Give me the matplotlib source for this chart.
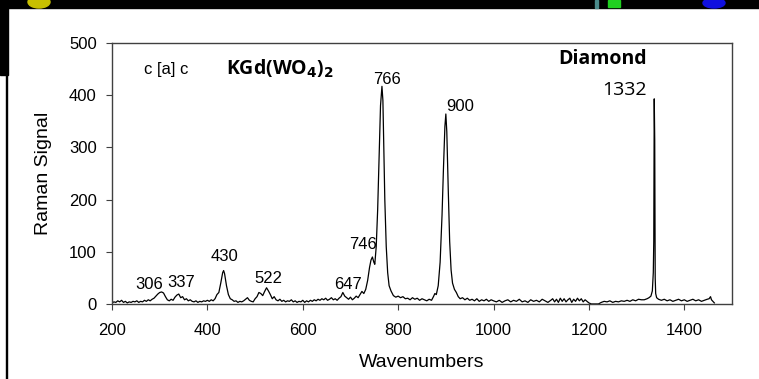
import matplotlib.pyplot as plt
from matplotlib.patches import Rectangle, Ellipse

plt.rcParams["font.family"] = ["Liberation Sans", "DejaVu Sans"]

# Raman spectrum of KGd(WO4)2, c[a]c geometry, with the diamond line at the end
wavenumber = [
    200, 204, 208, 212, 216, 220, 224, 228, 232, 236,
    240, 244, 248, 252, 256, 260, 264, 268, 272, 276,
    280, 284, 288, 292, 296, 300, 304, 308, 312, 316,
    320, 324, 328, 332, 336, 340, 344, 348, 352, 356,
    360, 364, 368, 372, 376, 380, 384, 388, 392, 396,
    400, 404, 408, 412, 416, 420, 424, 428, 432, 434,
    436, 440, 444, 448, 452, 456, 460, 464, 468, 472,
    476, 480, 484, 488, 492, 496, 500, 504, 508, 512,
    516, 520, 524, 528, 532, 536, 540, 544, 548, 552,
    556, 560, 564, 568, 572, 576, 580, 584, 588, 592,
    596, 600, 604, 608, 612, 616, 620, 624, 628, 632,
    636, 640, 644, 648, 652, 656, 660, 664, 668, 672,
    676, 680, 684, 688, 692, 696, 700, 704, 708, 712,
    716, 720, 724, 728, 732, 736, 740, 743, 746, 749,
    751, 754, 757, 760, 763, 766, 768, 770, 772, 775,
    778, 781, 785, 790, 795, 800, 805, 810, 815, 820,
    825, 830, 835, 840, 845, 850, 855, 860, 865, 870,
    874, 877, 880, 884, 888, 892, 895, 898, 900, 902,
    905, 908, 911, 914, 918, 922, 926, 930, 935, 940,
    945, 950, 955, 960, 965, 970, 975, 980, 985, 990,
    995, 1000, 1006, 1012, 1018, 1024, 1030, 1036, 1042, 1048,
    1054, 1060, 1066, 1072, 1078, 1084, 1090, 1096, 1102, 1108,
    1114, 1120, 1124, 1128, 1132, 1136, 1140, 1144, 1148, 1152,
    1156, 1160, 1164, 1168, 1172, 1176, 1180, 1184, 1188, 1192,
    1196, 1200, 1205, 1212, 1220, 1226, 1232, 1238, 1244, 1250,
    1256, 1262, 1268, 1274, 1280, 1286, 1292, 1298, 1304, 1310,
    1316, 1322, 1326, 1330, 1333, 1335, 1336, 1337, 1338, 1339,
    1340, 1342, 1346, 1352, 1358, 1364, 1370, 1376, 1382, 1388,
    1394, 1400, 1406, 1412, 1418, 1424, 1430, 1436, 1442, 1448,
    1452, 1455, 1457, 1460, 1463,
]
signal = [
    2, 4, 3, 6, 4, 7, 3, 5, 2, 4,
    3, 5, 4, 6, 3, 5, 4, 7, 5, 8,
    6, 9, 11, 15, 19, 22, 23, 21, 14, 8,
    6, 9, 7, 13, 17, 19, 12, 14, 8, 10,
    6, 8, 5, 4, 6, 3, 5, 4, 6, 5,
    7, 5, 8, 6, 10, 18, 22, 40, 60, 64,
    58, 35, 18, 10, 8, 5, 6, 3, 5, 4,
    6, 9, 12, 7, 5, 4, 10, 14, 22, 20,
    16, 24, 31, 25, 18, 10, 14, 8, 6, 9,
    5, 7, 4, 6, 5, 8, 4, 6, 3, 5,
    4, 7, 3, 6, 4, 7, 5, 8, 6, 9,
    7, 10, 8, 11, 7, 9, 12, 8, 10, 7,
    11, 14, 22, 15, 12, 9, 13, 8, 11, 15,
    12, 18, 24, 20, 28, 45, 70, 84, 90, 80,
    76, 110, 180, 280, 380, 417, 390, 300, 200, 110,
    60, 35, 25, 16, 13, 15, 12, 14, 10, 11,
    8, 12, 9, 11, 7, 10, 8, 6, 9, 7,
    14, 20, 18, 35, 80, 170, 260, 340, 364, 330,
    220, 120, 65, 40, 28, 22, 14, 10, 12, 8,
    11, 7, 9, 6, 10, 5, 8, 6, 9, 5,
    8, 6, 4, 7, 3, 6, 8, 4, 7, 5,
    9, 4, 6, 3, 8, 5, 7, 4, 9, 6,
    3, 7, 10, 4, 9, 3, 11, 5, 10, 4,
    8, 11, 3, 9, 5, 11, 6, 10, 4, 8,
    5, 2, 0, 0, 0, 3, 5, 4, 6, 3,
    5, 4, 6, 5, 7, 5, 8, 6, 9, 8,
    8, 10, 12, 15, 25, 60, 120, 393, 314, 50,
    20, 12, 9, 7, 9, 6, 8, 5, 7, 9,
    6, 8, 5, 7, 9, 6, 8, 5, 7, 9,
    10, 14, 8, 5, 2,
]

xticks = [200, 400, 600, 800, 1000, 1200, 1400]
yticks = [0, 100, 200, 300, 400, 500]

# labelled bands: (label, wavenumber of label centre, height of label centre)
band_labels = [
    ("306", 278, 38),
    ("337", 346, 42),
    ("430", 436, 90),
    ("522", 527, 48),
    ("647", 695, 38),
    ("746", 726, 113),
    ("766", 777, 431),
    ("900", 930, 379),
]

fig = plt.figure(figsize=(7.59, 3.79), dpi=100)
ax = fig.add_axes([0.1476, 0.198, 0.8168, 0.6885])

ax.plot(wavenumber, signal, color="black", lw=0.9)

ax.set_xlim(200, 1500)
ax.set_ylim(0, 500)
ax.set_xticks(xticks)
ax.set_yticks(yticks)
ax.tick_params(direction="out", length=4, width=0.8, color="#404040",
               labelsize=12)
ax.tick_params(axis="x", pad=9.5)
ax.tick_params(axis="y", pad=7)
for sp in ax.spines.values():
    sp.set_color("#404040")
    sp.set_linewidth(1.0)

ax.set_xlabel("Wavenumbers", fontsize=14, labelpad=12)
ax.set_ylabel("Raman Signal", fontsize=14, labelpad=12)

for txt, x, y in band_labels:
    ax.text(x, y, txt, fontsize=12, ha="center", va="center")

ax.text(313, 450, "c [a] c", fontsize=12, ha="center", va="center")
ax.text(551, 450, r"KGd(WO$_\mathbf{4}$)$_\mathbf{2}$", fontsize=14,
        fontweight="bold", family="Open Sans", ha="center", va="center")
ax.text(1321, 469, "Diamond", fontsize=14, fontweight="bold",
        family="Open Sans", ha="right", va="center")
ax.text(1321, 410, "1332", fontsize=14, family="Open Sans", ha="right",
        va="center")

# dark screen-capture borders around the chart
fig.patches.append(Rectangle((0, 1 - 8 / 379), 1, 8 / 379, color="black",
                             transform=fig.transFigure, zorder=5))
fig.patches.append(Rectangle((0, 1 - 75 / 379), 8 / 759, 75 / 379,
                             color="black", transform=fig.transFigure,
                             zorder=5))
fig.patches.append(Rectangle((5.5 / 759, 0), 1.5 / 759, 1, color="black",
                             transform=fig.transFigure, zorder=5))
fig.patches.append(Ellipse((39 / 759, 1 - 2 / 379), 22 / 759, 12 / 379,
                           color="#c8c000", transform=fig.transFigure,
                           zorder=6))
fig.patches.append(Rectangle((595 / 759, 1 - 8 / 379), 3 / 759, 8 / 379,
                             color="#4a8a8a", transform=fig.transFigure,
                             zorder=6))
fig.patches.append(Rectangle((608 / 759, 1 - 7 / 379), 12 / 759, 7 / 379,
                             color="#20d020", transform=fig.transFigure,
                             zorder=6))
fig.patches.append(Ellipse((714 / 759, 1 - 3 / 379), 22 / 759, 10 / 379,
                           color="#1010e0", transform=fig.transFigure,
                           zorder=6))

fig.savefig("out.png", dpi=100)
